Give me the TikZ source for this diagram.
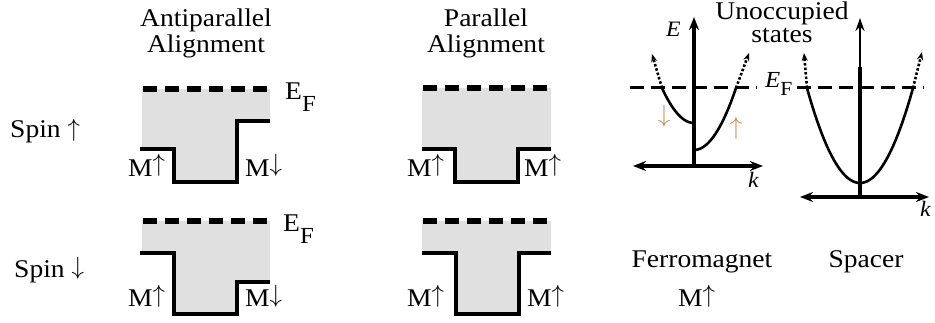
\documentclass[tikz,border=0pt]{standalone}
\usepackage{fontspec}
\setmainfont[FakeStretch=1.08]{Liberation Serif}
\usetikzlibrary{arrows.meta}
\definecolor{bandgray}{RGB}{224,224,224}
\definecolor{spintan}{RGB}{200,140,80}
\tikzset{
  band/.style={fill=bandgray, draw=none},
  bandedge/.style={line width=4pt, line join=miter, line cap=butt},
  fermi/.style={line width=5.5pt, dash pattern=on 14pt off 8pt},
  fermithin/.style={line width=3pt, dash pattern=on 14pt off 7pt},
  lbl/.style={font=\fontsize{25.5}{26}\selectfont, inner sep=0pt, anchor=base west},
  title/.style={font=\fontsize{25.5}{26}\selectfont, inner sep=0pt, anchor=base},
  axislbl/.style={font=\fontsize{22}{22}\selectfont\itshape, inner sep=0pt, anchor=base west},
  axis/.style={line width=4pt, -{Stealth[length=13pt,width=10pt]}},
  axis2/.style={line width=4pt, {Stealth[length=13pt,width=10pt]}-{Stealth[length=13pt,width=10pt]}},
  curve/.style={line width=2.6pt},
  unocc/.style={line width=2.6pt, dash pattern=on 2.5pt off 2pt, -{Stealth[length=8pt,width=6pt]}},
  spinarrow/.style={font=\fontsize{27}{26}\selectfont, inner sep=0pt, text=spintan},
}
% E_F with a nearly full-size, lowered F
\newcommand{\fermilabel}{E\raisebox{-12pt}{\fontsize{23}{23}\selectfont F}}
% magnetisation labels: arrow standing on the baseline
\newcommand{\magup}{M\raisebox{5pt}{$\uparrow$}}
\newcommand{\magdn}{M\raisebox{5pt}{$\downarrow$}}
\begin{document}
\begin{tikzpicture}[x=1pt,y=-1pt]
  \fill[white] (0,0) rectangle (935,323);
  \useasboundingbox (0,0) rectangle (935,323);

  % column headings
  \node[title] (apA) at (206,27) {Antiparallel};
  \node[title] (apB) at (206,53) {Alignment};
  \node[title] (pA) at (486,27) {Parallel};
  \node[title] (pB) at (486,53) {Alignment};

  % row labels
  \node[lbl] (spinup) at (10,138) {Spin \raisebox{1pt}{$\uparrow$}};
  \node[lbl] (spindn) at (14,278) {Spin \raisebox{3pt}{$\downarrow$}};

  % antiparallel, spin up
  \fill[band] (142,89) -- (270,89) -- (270,121) -- (237,121) -- (237,182)
    -- (174,182) -- (174,149) -- (142,149) -- cycle;
  \draw[bandedge] (140,149) -- (174,149) -- (174,182) -- (237,182) -- (237,121) -- (270,121);
  \draw[fermi] (143,89) -- (270,89);
  \node[lbl] (ef1) at (285,100) {\fermilabel};
  \node[lbl] (m1) at (128,177) {\magup};
  \node[lbl] (m2) at (245,177) {\magdn};

  % antiparallel, spin down
  \fill[band] (142,221) -- (270,221) -- (270,282) -- (237,282) -- (237,314)
    -- (174,314) -- (174,253) -- (142,253) -- cycle;
  \draw[bandedge] (140,253) -- (174,253) -- (174,314) -- (237,314) -- (237,282) -- (270,282);
  \draw[fermi] (143,221) -- (270,221);
  \node[lbl] (ef2) at (283,232) {\fermilabel};
  \node[lbl] (m3) at (128,307) {\magup};
  \node[lbl] (m4) at (245,307) {\magdn};

  % parallel, spin up
  \fill[band] (422,88) -- (551,88) -- (551,149) -- (518,149) -- (518,182)
    -- (455,182) -- (455,149) -- (422,149) -- cycle;
  \draw[bandedge] (422,149) -- (455,149) -- (455,182) -- (518,182) -- (518,149) -- (551,149);
  \draw[fermi] (423,88) -- (551,88);
  \node[lbl] (m5) at (407,177) {\magup};
  \node[lbl] (m6) at (524,177) {\magup};

  % parallel, spin down
  \fill[band] (422,221) -- (551,221) -- (551,253) -- (519,253) -- (519,314)
    -- (456,314) -- (456,253) -- (422,253) -- cycle;
  \draw[bandedge] (422,253) -- (456,253) -- (456,314) -- (519,314) -- (519,253) -- (551,253);
  \draw[fermi] (423,221) -- (551,221);
  \node[lbl] (m7) at (407,307) {\magup};
  \node[lbl] (m8) at (527,307) {\magup};

  % ferromagnet dispersion
  \draw[axis] (694,166) -- (694,17);
  \draw[axis2] (633,166) -- (763,166);
  \node[axislbl] (eaxis) at (666,37) {E};
  \node[axislbl] (k1) at (748,188) {k};
  \draw[fermithin] (630,88) -- (757,88);
  \draw[curve] plot[domain=694:662, samples=40, smooth] (\x, {123-0.0342*(\x-694)*(\x-694)});
  \draw[curve] plot[domain=694:736, samples=40, smooth] (\x, {150-0.03515*(\x-694)*(\x-694)});
  \draw[unocc] (662,88) -- (652,54);
  \draw[unocc] (736,88) -- (749,53);
  \node[spinarrow] (sd) at (664,116) {$\downarrow$};
  \node[spinarrow] (su) at (736,128) {$\uparrow$};

  % spacer dispersion
  \draw[line width=4pt] (860,197) -- (860,67);
  \draw[line width=2pt, -{Stealth[length=13pt,width=9pt]}] (860,68) -- (860,18);
  \draw[axis2] (800,197) -- (929,197);
  \node[axislbl] (k2) at (920,217) {k};
  \draw[fermithin] (797,88) -- (924,88);
  \draw[curve] plot[domain=807:913, samples=60, smooth] (\x, {183-0.0338*(\x-860)*(\x-860)});
  \draw[unocc] (807,88) -- (804,53);
  \draw[unocc] (913,88) -- (922,52);
  \node[lbl] (efs) at (765,88) {\fontsize{23}{23}\selectfont\textit{E}\raisebox{-8pt}{\fontsize{20}{20}\selectfont F}};

  \node[title] (unA) at (782,19.5) {Unoccupied};
  \node[title] (unB) at (782,43) {states};

  % bottom captions
  \node[title] (ferro) at (702,268) {Ferromagnet};
  \node[lbl] (mf) at (678,307) {\magup};
  \node[title] (spacer) at (866,268) {Spacer};
\end{tikzpicture}
\end{document}
